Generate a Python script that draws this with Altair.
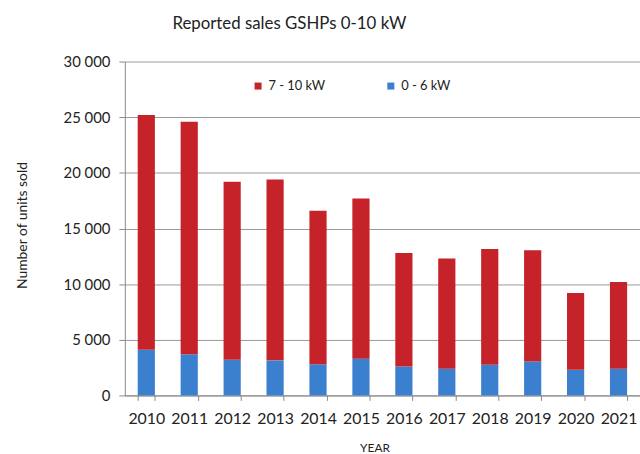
import altair as alt
import pandas as pd

years = ["2010", "2011", "2012", "2013", "2014", "2015",
         "2016", "2017", "2018", "2019", "2020", "2021"]
totals = [25200, 24600, 19200, 19400, 16600, 17700,
          12800, 12300, 13150, 13050, 9200, 10200]
small = [4100, 3700, 3200, 3150, 2800, 3300,
         2600, 2400, 2750, 3050, 2300, 2400]
large = [t - s for t, s in zip(totals, small)]

series_names = ["7 - 10 kW", "0 - 6 kW"]
series_colors = ["#c5222a", "#3b7fcf"]

rows = []
for y, s, l in zip(years, small, large):
    rows.append({"year": y, "series": "0 - 6 kW", "value": s, "ord": 0})
    rows.append({"year": y, "series": "7 - 10 kW", "value": l, "ord": 1})
df = pd.DataFrame(rows)

FONT = "Lato"

chart = alt.Chart(df).mark_bar().encode(
    x=alt.X("year:N", sort=years,
            scale=alt.Scale(paddingInner=0.6, paddingOuter=0.3),
            axis=alt.Axis(title="YEAR", labelAngle=0, tickBand="extent",
                          tickSize=5, labelPadding=10, labelFontSize=16,
                          titleFontSize=12, titleFontWeight="normal",
                          titleY=53, titleBaseline="middle", titleX=252,
                          domainColor="#888", tickColor="#888",
                          grid=False)),
    y=alt.Y("value:Q", stack="zero",
            scale=alt.Scale(domain=[0, 30000]),
            axis=alt.Axis(title="Number of units sold", values=[0, 5000, 10000, 15000, 20000, 25000, 30000],
                          labelExpr="replace(format(datum.value, ','), ',', ' ')",
                          tickSize=6, labelPadding=9, labelFontSize=15,
                          titleFontSize=14, titleFontWeight="normal",
                          titleX=-103, titleY=165, titleAngle=-90,
                          titleBaseline="middle", titleAlign="center",
                          domainColor="#888", tickColor="#888",
                          gridColor="#999", gridWidth=1)),
    color=alt.Color("series:N",
                    scale=alt.Scale(domain=series_names, range=series_colors),
                    legend=alt.Legend(title=None, orient="none", legendX=128, legendY=18,
                                      direction="horizontal", symbolType="square",
                                      symbolSize=50, labelFontSize=13,
                                      columnPadding=59, symbolStrokeWidth=0)),
    order=alt.Order("ord:Q")
).properties(
    width=520, height=337,
    padding={"left": 126, "top": 60, "right": 0, "bottom": 57},
    autosize=alt.AutoSizeParams(type="none"),
    title=alt.TitleParams("Reported sales GSHPs 0-10 kW", fontSize=17,
                          fontWeight="normal", font=FONT, anchor="start",
                          dx=158, offset=22, color="#222")
).configure(font=FONT).configure_view(stroke=None).configure_axis(
    labelFont=FONT, titleFont=FONT, labelColor="#222", titleColor="#222"
).configure_legend(labelFont=FONT, labelColor="#222")

chart.save("out.html", embed_options={"renderer": "svg", "actions": False})
